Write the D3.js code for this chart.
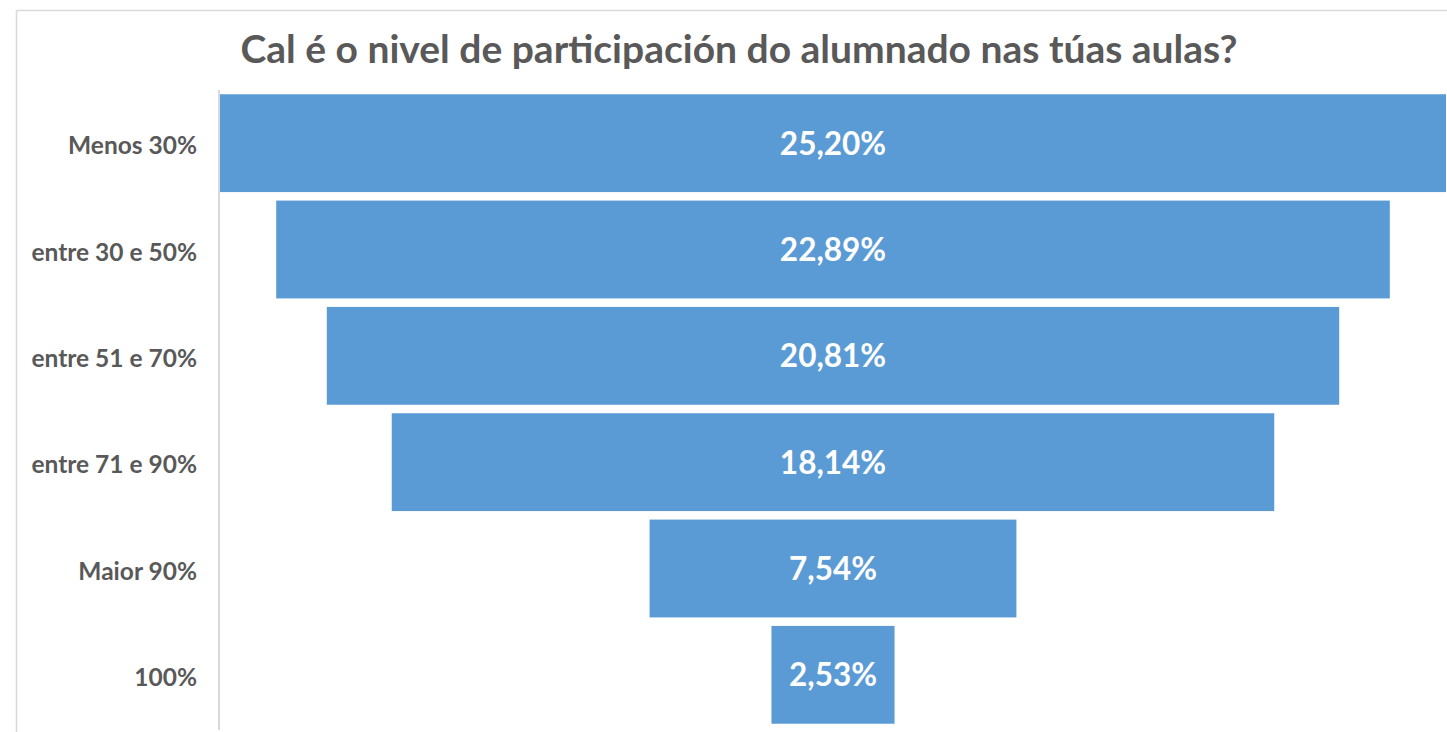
<!DOCTYPE html>
<html>
<head>
<meta charset="utf-8">
<script src="https://cdn.jsdelivr.net/npm/d3@7"></script>
<style>
  body { margin: 0; background: #fff; }
</style>
</head>
<body>
<div class="root"></div>
<script>
// Categories and values read from the funnel
const categories = ["Menos 30%", "entre 30 e 50%", "entre 51 e 70%", "entre 71 e 90%", "Maior 90%", "100%"];
const values = [25.20, 22.89, 20.81, 18.14, 7.54, 2.53];
const title = "Cal é o nivel de participación do alumnado nas túas aulas?";

const width = 1447, height = 732;
const margin = { top: 90, right: 0, bottom: 4, left: 220 };
const center = 833;

const svg = d3.select(".root").append("svg")
    .attr("width", width)
    .attr("height", height);

// chart border
svg.append("rect")
    .attr("x", 16.5).attr("y", 10.5)
    .attr("width", 1460).attr("height", 760)
    .attr("fill", "none")
    .attr("stroke", "#d9d9d9")
    .attr("stroke-width", 1.5);

const yScale = d3.scaleBand()
    .domain(categories)
    .range([margin.top, height - margin.bottom])
    .paddingInner(0.08)
    .paddingOuter(0.04);

// half-width scale: bars are centred on the funnel axis
const wScale = d3.scaleLinear()
    .domain([0, d3.max(values)])
    .range([0, center - margin.left]);

const data = categories.map((c, i) => ({ cat: c, val: values[i] }));

svg.selectAll("rect.bar").data(data).enter().append("rect")
    .attr("class", "bar")
    .attr("x", d => center - wScale(d.val))
    .attr("y", d => yScale(d.cat))
    .attr("width", d => 2 * wScale(d.val))
    .attr("height", yScale.bandwidth())
    .attr("fill", "#5b9bd5");

// category axis
const yAxis = svg.append("g")
    .attr("transform", "translate(" + (margin.left - 1) + ",0)")
    .call(d3.axisLeft(yScale).tickSize(0).tickPadding(22));
yAxis.select(".domain").attr("stroke", "#d9d9d9").attr("stroke-width", 2)
    .attr("d", "M0," + margin.top + "V" + (height - 2));
yAxis.selectAll("text")
    .attr("font-family", "Lato")
    .attr("font-size", 24.5)
    .attr("font-weight", 700)
    .attr("fill", "#595959")
    .attr("dy", "0.45em");

// value labels
const fmt = v => v.toFixed(2).replace(".", ",") + "%";
svg.selectAll("text.val").data(data).enter().append("text")
    .attr("class", "val")
    .attr("x", center)
    .attr("y", d => yScale(d.cat) + yScale.bandwidth() / 2)
    .attr("dy", "0.36em")
    .attr("text-anchor", "middle")
    .attr("font-family", "Lato")
    .attr("font-size", 31.5)
    .attr("font-weight", 700)
    .attr("fill", "#fff")
    .text(d => fmt(d.val));

// title
svg.append("text")
    .attr("x", 739)
    .attr("y", 63)
    .attr("text-anchor", "middle")
    .attr("font-family", "Lato")
    .attr("font-size", 39)
    .attr("font-weight", 700)
    .attr("fill", "#595959")
    .text(title);
</script>
</body>
</html>
